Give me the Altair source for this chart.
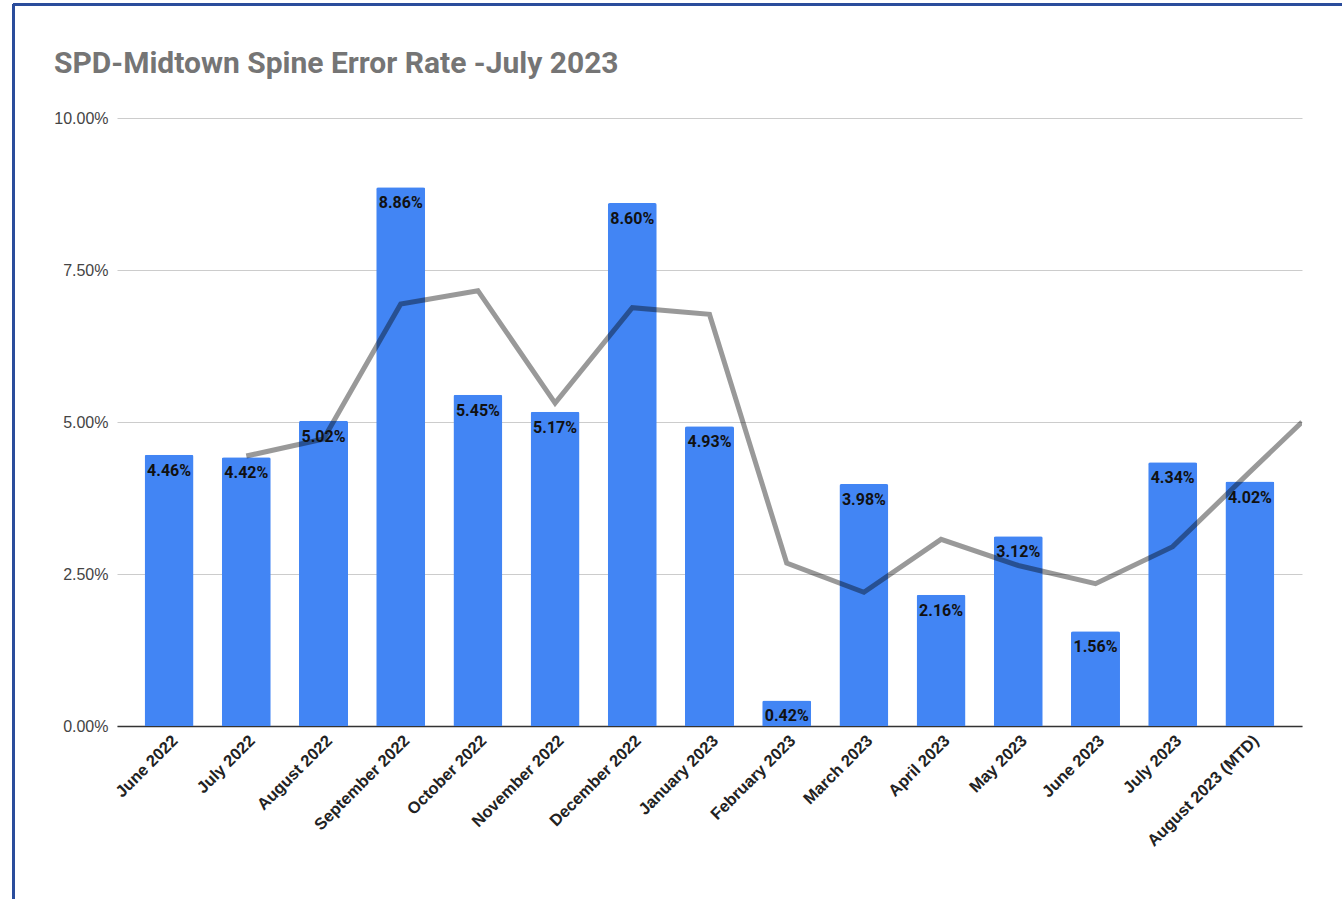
import json
import altair as alt
import pandas as pd

# Monthly spine error rate (fraction) and its 2-month moving average
months = [
    "June 2022", "July 2022", "August 2022", "September 2022", "October 2022",
    "November 2022", "December 2022", "January 2023", "February 2023",
    "March 2023", "April 2023", "May 2023", "June 2023", "July 2023",
    "August 2023 (MTD)",
]
error_rate = [
    0.0446, 0.0442, 0.0502, 0.0886, 0.0545, 0.0517, 0.0860, 0.0493,
    0.0042, 0.0398, 0.0216, 0.0312, 0.0156, 0.0434, 0.0402,
]
trend_pos = [1, 2, 3, 4, 5, 6, 7, 8, 9, 10, 11, 12, 13, 14, 14.675]
trend_rate = [
    0.0444, 0.0472, 0.0694, 0.0716, 0.0531, 0.0688, 0.0677, 0.0268,
    0.0220, 0.0307, 0.0264, 0.0234, 0.0295, 0.0418, 0.0500,
]

bars_df = pd.DataFrame({"idx": list(range(len(months))), "month": months, "rate": error_rate})
trend_df = pd.DataFrame({"idx": trend_pos, "rate": trend_rate})

X_DOMAIN = [-0.675, 14.675]
label_expr = json.dumps(months) + "[datum.value]"

x_axis = alt.Axis(
    values=list(range(len(months))),
    labelExpr=label_expr,
    labelAngle=-45,
    labelAlign="right",
    labelBaseline="top",
    labelOverlap=False,
    labelFont="Liberation Sans",
    labelFontSize=16.5,
    labelFontWeight="bold",
    labelColor="#222222",
    labelPadding=6,
    ticks=False,
    grid=False,
    domainColor="#333333",
    domainWidth=1.5,
    title=None,
)
y_axis = alt.Axis(
    values=[0, 0.025, 0.05, 0.075, 0.10],
    format=".2%",
    labelFont="Liberation Sans",
    labelFontSize=16,
    labelColor="#444444",
    labelPadding=9,
    ticks=False,
    domain=False,
    gridColor="#cccccc",
    gridWidth=1,
    title=None,
)

x_scale = alt.Scale(domain=X_DOMAIN, nice=False, zero=False, padding=0)

bars = alt.Chart(bars_df).mark_bar(
    color="#4285f4", width=49, cornerRadiusTopLeft=2, cornerRadiusTopRight=2
).encode(
    x=alt.X("idx:Q", scale=x_scale, axis=x_axis),
    y=alt.Y("rate:Q", scale=alt.Scale(domain=[0, 0.10], nice=False), axis=y_axis),
)

trend = alt.Chart(trend_df).mark_line(
    color="#000000", opacity=0.4, strokeWidth=5, clip=True
).encode(x=alt.X("idx:Q"), y=alt.Y("rate:Q"))

labels = alt.Chart(bars_df).mark_text(
    font="Roboto", fontSize=16, fontWeight="bold", color="#111111",
    baseline="middle", dy=16,
).encode(x=alt.X("idx:Q"), y=alt.Y("rate:Q"), text=alt.Text("rate:Q", format=".2%"))

# Frame lines along the top and left edge of the card
frame_top = alt.Chart(bars_df).mark_rule(color="#2a4d9b", strokeWidth=2, clip=False).encode(
    x=alt.value(-104), x2=alt.value(1230), y=alt.value(-113.5)
)
frame_left = alt.Chart(bars_df).mark_rule(color="#2a4d9b", strokeWidth=2, clip=False).encode(
    x=alt.value(-103.5), y=alt.value(-114), y2=alt.value(790)
)

chart = (
    alt.layer(bars, trend, labels, frame_top, frame_left)
    .properties(
        width=1185,
        height=608,
        autosize=alt.AutoSizeParams(type="none"),
        padding={"left": 117, "top": 118, "right": 40, "bottom": 173},
        title=alt.TitleParams(
            "SPD-Midtown Spine Error Rate -July 2023",
            anchor="start",
            frame="group",
            font="Roboto",
            fontSize=30,
            fontWeight="bold",
            color="#757575",
            baseline="alphabetic",
            dx=-63,
            dy=100,
            offset=0,
        ),
    )
    .configure(background="white")
    .configure_view(stroke=None, strokeWidth=0)
)

chart.save("out.html", embed_options={"renderer": "svg", "actions": False})
